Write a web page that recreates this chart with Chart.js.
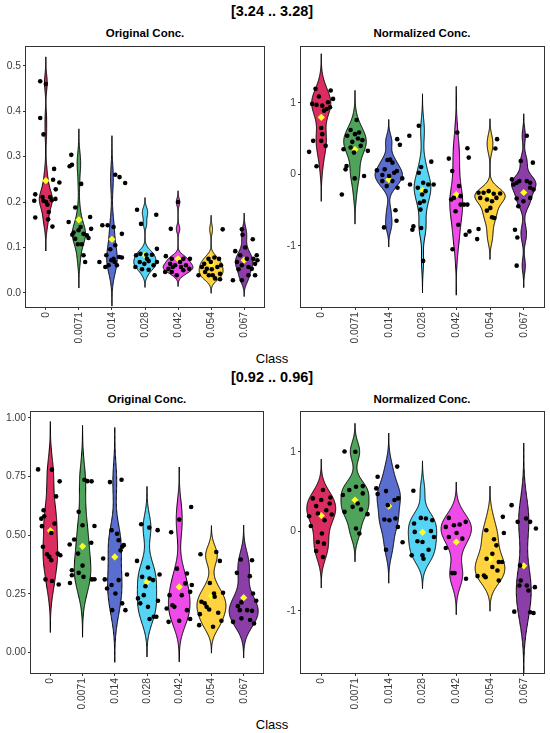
<!DOCTYPE html>
<html>
<head>
<meta charset="utf-8">
<script src="https://cdn.jsdelivr.net/npm/chart.js@4.4.1/dist/chart.umd.min.js"></script>
<style>
body { margin: 0; background: #fff; width: 550px; height: 733px; position: relative; overflow: hidden;
       font-family: "Liberation Sans", Arial, sans-serif; }
canvas { position: absolute; }
.t { position: absolute; transform: translate(-50%, -50%); white-space: nowrap; color: #000; }
.big { font-weight: bold; font-size: 14.5px; }
.sub { font-weight: bold; font-size: 11.5px; }
.cls { font-size: 13px; }
</style>
</head>
<body>
<div class="t big" style="left:272px;top:11px">[3.24 .. 3.28]</div>
<div class="t sub" style="left:145px;top:33px">Original Conc.</div>
<div class="t sub" style="left:422px;top:33px">Normalized Conc.</div>
<div class="t cls" style="left:272px;top:358px">Class</div>
<div class="t big" style="left:272px;top:377px">[0.92 .. 0.96]</div>
<div class="t sub" style="left:147px;top:399px">Original Conc.</div>
<div class="t sub" style="left:422px;top:399px">Normalized Conc.</div>
<div class="t cls" style="left:272px;top:724px">Class</div>

<canvas id="c1" width="275" height="316" style="left:0;top:39px"></canvas>
<canvas id="c2" width="275" height="316" style="left:275px;top:39px"></canvas>
<canvas id="c3" width="275" height="316" style="left:0;top:404px"></canvas>
<canvas id="c4" width="275" height="316" style="left:275px;top:404px"></canvas>

<script>
// categories
const classes = ["0", "0.0071", "0.014", "0.028", "0.042", "0.054", "0.067"];
const fills = ["#DB2D5F", "#4FA35A", "#5A6ECF", "#56D4F5", "#EE4BE8", "#FFD23F", "#8B3DA8"];

// [3.24 .. 3.28] - original conc.
const hiOrigValues = [
  [0.466,0.46,0.385,0.349,0.273,0.249,0.243,0.228,0.217,0.211,0.211,0.203,0.203,0.204,0.207,0.194,0.178,0.166,0.162,0.146,0.2],
  [0.304,0.279,0.282,0.240,0.188,0.167,0.156,0.141,0.133,0.138,0.130,0.121,0.127,0.107,0.107,0.083,0.068,0.119,0.145,0.128],
  [0.260,0.255,0.242,0.149,0.149,0.145,0.130,0.068,0.083,0.061,0.075,0.079,0.078,0.096,0.105,0.057,0.061,0.068,0.072],
  [0.183,0.152,0.172,0.083,0.086,0.084,0.084,0.097,0.057,0.068,0.064,0.07,0.061,0.068,0.052,0.051,0.039,0.075],
  [0.141,0.2,0.081,0.075,0.075,0.075,0.064,0.061,0.068,0.061,0.046,0.053,0.057,0.057,0.053,0.046,0.050,0.039],
  [0.14,0.039,0.064,0.075,0.078,0.075,0.057,0.053,0.052,0.057,0.061,0.039,0.039,0.03,0.032,0.046,0.042,0.068],
  [0.14,0.128,0.118,0.1,0.092,0.083,0.075,0.075,0.083,0.068,0.061,0.064,0.072,0.057,0.052,0.053,0.028,0.028,0.039,0.039]
];
const hiOrigJitter = [
  [-0.17,0,-0.17,-0.07,0.25,0.22,0.41,0.30,-0.32,-0.1,0.13,-0.35,-0.07,0.18,0.29,0.05,0.09,-0.32,0.07,0.2,0.01],
  [-0.23,-0.28,-0.21,0.07,-0.11,0.34,-0.31,0.37,-0.16,-0.01,0.14,0.29,0.24,-0.03,0.09,0.14,0.19,-0.11,0.05,-0.2],
  [0.1,0.23,0.4,-0.29,-0.13,0.05,0.3,-0.38,-0.17,-0.1,0.05,0.22,0.3,-0.05,0.1,-0.2,0.15,0.08,-0.02],
  [-0.24,-0.12,0.34,-0.27,-0.14,0.04,0.21,0.36,-0.29,-0.16,-0.02,0.11,0.26,0.36,-0.09,0.11,0.29,0.06],
  [-0.22,0,-0.37,-0.19,0.16,0.36,-0.24,-0.09,0.06,0.24,-0.39,-0.29,-0.16,0.09,0.34,-0.19,0.16,-0.04],
  [0.35,-0.38,-0.21,-0.08,0.1,0.24,-0.28,-0.13,0.02,0.19,0.3,0.05,-0.07,0.27,0.12,-0.18,0.27,-0.01],
  [-0.07,-0.05,0.26,0.03,-0.27,-0.12,0.08,0.28,0.38,-0.22,-0.07,0.33,0.4,0.13,-0.17,0.23,-0.34,-0.07,0.33,0.13]
];
const hiOrigMeans = [0.247, 0.161, 0.118, 0.083, 0.075, 0.065, 0.072];
const hiOrigTicks = ["0.0", "0.1", "0.2", "0.3", "0.4", "0.5"];

// [3.24 .. 3.28] - normalized conc.
const hiNormValues = [
  [1.197,1.089,0.986,0.972,0.962,1.174,1.056,1.009,0.939,0.915,0.648,0.563,0.469,0.469,0.399,0.113,0.315,0.892],
  [0.761,0.54,0.62,0.563,0.587,0.502,0.352,0.376,0.305,0.399,0.329,0.117,0.07,-0.056,-0.023,-0.282,0.455,0.479],
  [0.493,0.413,0.202,0.207,0.056,0.07,0.023,0.047,-0.056,-0.009,-0.164,-0.094,-0.188,-0.502,-0.648,-0.742,-0.023,0.164,-0.094],
  [0.54,0.681,0.178,-0.141,0.103,0.023,-0.117,-0.141,-0.141,-0.188,-0.282,-0.399,-0.493,-0.751,-0.775,-0.728,-1.211,-0.235,-0.376],
  [0.587,0.221,0.366,0.235,0.047,-0.164,-0.329,-0.423,-0.423,-0.423,-0.352,-0.704,-0.845,-0.798,-1.047,-0.516,-0.305],
  [0.493,0.362,-0.258,-0.258,-0.235,-0.272,-0.268,-0.329,-0.352,-0.376,-0.329,-0.469,-0.507,-0.601,-0.61,-0.765,-0.906],
  [0.54,0.188,0.164,-0.07,-0.117,-0.094,-0.094,-0.117,-0.211,-0.329,-0.338,-0.376,-0.446,-0.775,-0.883,-1.277,-0.188,-0.141]
];
const hiNormJitter = [
  [-0.17,-0.07,-0.27,-0.14,0.03,0.28,0.35,0.2,0.26,0.16,0,0.03,-0.24,0,0.13,-0.14,-0.36,0.08],
  [0.05,-0.23,-0.13,0,0.12,0.09,-0.34,-0.13,-0.03,0.17,0.38,-0.25,-0.28,-0.01,0.27,-0.39,-0.08,0.22],
  [0.25,0.33,-0.04,0.04,-0.35,-0.12,0.16,0.24,0.4,-0.19,-0.06,0.11,0.26,0.2,0.23,-0.14,0.01,0.11,-0.19],
  [-0.39,-0.11,0.26,-0.37,-0.04,-0.11,0.02,0.17,0.33,-0.14,-0.01,-0.08,-0.06,-0.04,-0.3,-0.27,0.02,0.09,0.04],
  [0.03,-0.22,0.33,0.37,-0.12,0.08,-0.07,0.13,0.23,0.33,-0.15,0.06,0.28,0.39,-0.11,-0.02,0.13],
  [0.21,0.16,-0.34,-0.19,-0.04,0.11,0.3,-0.29,-0.09,0.06,0.19,0.01,-0.09,0.06,0.13,-0.34,-0.38],
  [0.09,-0.09,0.27,-0.35,-0.21,-0.13,0.09,0.19,0.29,0.19,-0.21,-0.01,-0.16,-0.26,-0.19,-0.21,0.19,-0.3]
];
const hiNormMeans = [0.798, 0.347, -0.075, -0.225, -0.282, -0.28, -0.254];
const normTicks = ["-1", "0", "1"];

// [0.92 .. 0.96] - original conc.
const loOrigValues = [
  [0.78,0.779,0.729,0.665,0.606,0.57,0.58,0.549,0.538,0.509,0.45,0.418,0.407,0.421,0.414,0.393,0.311,0.304,0.289],
  [0.599,0.736,0.73,0.729,0.542,0.539,0.46,0.481,0.467,0.35,0.37,0.339,0.329,0.322,0.312,0.296,0.311,0.421],
  [0.726,0.736,0.4,0.521,0.506,0.478,0.45,0.457,0.435,0.332,0.311,0.272,0.251,0.287,0.209,0.18,0.18,0.308],
  [0.546,0.532,0.521,0.39,0.362,0.322,0.315,0.282,0.308,0.332,0.23,0.244,0.209,0.22,0.194,0.152,0.142,0.152],
  [0.566,0.62,0.512,0.357,0.336,0.287,0.244,0.201,0.194,0.244,0.294,0.258,0.187,0.13,0.18,0.135,0.142],
  [0.428,0.418,0.39,0.296,0.251,0.254,0.216,0.209,0.194,0.183,0.163,0.169,0.135,0.116,0.109,0.237],
  [0.396,0.393,0.339,0.325,0.251,0.22,0.213,0.197,0.18,0.18,0.13,0.145,0.177,0.138,0.123]
];
const loOrigJitter = [
  [-0.38,0.05,0.29,0.18,-0.21,-0.28,-0.19,0.13,-0.26,0.03,-0.23,-0.1,-0.03,0.23,0.31,0.03,-0.15,0.05,0.26],
  [-0.12,0.06,0.15,0.28,0,0.37,-0.4,-0.26,0.27,-0.33,0,-0.12,-0.33,0.03,0.37,-0.39,0.29,-0.14],
  [-0.15,0.21,-0.36,-0.1,0.07,0.12,0.23,0.28,0.18,0.38,-0.31,-0.24,0.02,-0.1,0.23,0.33,-0.08,0.12],
  [-0.18,0.07,0.33,-0.31,0.03,-0.15,0.08,-0.05,0.19,0.39,-0.28,-0.1,-0.21,0.34,0.03,0.21,0.08,0.29],
  [0,0.37,-0.25,-0.07,0.24,0.39,-0.3,-0.21,-0.15,0.08,0.19,0.34,-0.39,-0.33,0.24,0,0.34],
  [0.15,-0.34,0.26,-0.05,0.08,0.36,-0.31,-0.21,-0.15,-0.07,-0.36,0.21,0.31,-0.38,0.05,0.1],
  [-0.09,0.26,-0.21,0.19,0.29,0.39,-0.07,-0.18,-0.12,0.11,-0.33,-0.07,0.26,0.2,0.32]
];
const loOrigMeans = [0.518, 0.452, 0.407, 0.301, 0.279, 0.24, 0.233];
const loOrigTicks = ["0.00", "0.25", "0.50", "0.75", "1.00"];

// [0.92 .. 0.96] - normalized conc.
const loNormValues = [
  [0.518,0.413,0.392,0.425,0.316,0.349,0.265,0.189,0.223,0.211,0.067,0.139,-0.029,-0.135,-0.156,-0.248,-0.324],
  [1.002,1.0,0.455,0.518,0.56,0.568,0.244,0.307,0.349,0.274,0.215,0.034,-0.029,0.476],
  [0.686,0.813,0.539,0.505,0.467,0.392,0.413,0.147,0.139,0.16,0.055,-0.139,-0.232,0.328],
  [0.509,0.168,0.16,0.097,0.139,-0.008,-0.126,-0.135,0.004,-0.072,-0.303,-0.303,-0.232,-0.345],
  [0.168,0.076,0.084,0.118,0.055,-0.072,-0.093,-0.021,-0.211,-0.526,-0.526,-0.598],
  [0.181,0.013,-0.021,-0.101,-0.177,-0.282,-0.345,-0.387,-0.387,-0.556,-0.577,-0.564,-0.493,-0.619,-0.45],
  [0.328,0.118,0.16,0.118,0.034,-0.429,-0.619,-0.682,-0.682,-0.745,-0.703,-1.011,-1.019,-1.027]
];
const loNormJitter = [
  [0.05,-0.25,0,0.27,-0.15,0.25,0.15,-0.36,-0.1,0.31,-0.31,0.1,0.02,-0.1,0.08,-0.15,0.05],
  [-0.31,0.01,-0.36,-0.17,0.03,0.23,-0.31,-0.07,0.08,0.18,0.37,0.03,0.13,0.23],
  [-0.33,0.25,-0.37,-0.08,-0.33,0.17,0.28,-0.13,0.02,0.2,0.27,0.41,-0.08,-0.03],
  [-0.27,-0.05,0.1,-0.25,0.29,-0.23,-0.15,0,0.25,0.34,-0.32,0,0.18,0.03],
  [-0.22,-0.07,0.1,0.28,-0.31,-0.22,0.18,0.01,-0.31,-0.12,-0.05,0.29],
  [0.38,-0.11,0.41,0.12,0.19,0.07,-0.1,0.26,0.36,-0.18,-0.13,-0.37,0.22,0.26,0.07],
  [-0.36,-0.18,0.07,0.19,0.36,-0.11,-0.09,-0.13,0.09,0.14,0.33,-0.28,0.19,0.29]
];
const loNormMeans = [0.198, 0.392, 0.316, -0.013, -0.135, -0.35, -0.434];

Chart.defaults.font.family = '"Liberation Sans", Arial, sans-serif';

// gaussian kde like R density(), bw.nrd0, cut = 3
function quantile(s, p) {
  const h = (s.length - 1) * p, lo = Math.floor(h);
  return s[lo] + (h - lo) * ((s[lo + 1] ?? s[lo]) - s[lo]);
}
function kde(v) {
  const s = [...v].sort((a, b) => a - b), n = s.length;
  const mean = s.reduce((a, b) => a + b, 0) / n;
  const sd = Math.sqrt(s.reduce((a, b) => a + (b - mean) ** 2, 0) / (n - 1));
  const iqr = (quantile(s, 0.75) - quantile(s, 0.25)) / 1.34;
  const bw = 0.9 * Math.min(sd, iqr || sd) * Math.pow(n, -0.2);
  const lo = s[0] - 3 * bw, hi = s[n - 1] + 3 * bw;
  const ys = [], ds = [];
  for (let k = 0; k <= 200; k++) {
    const y = lo + (hi - lo) * k / 200;
    let d = 0;
    for (const x of s) d += Math.exp(-0.5 * ((y - x) / bw) ** 2);
    ys.push(y);
    ds.push(d / (n * bw * Math.sqrt(2 * Math.PI)));
  }
  return { ys, ds };
}

const violinPlugin = {
  id: 'violins',
  beforeDatasetsDraw(chart, args, opts) {
    const { ctx, chartArea, scales: { x, y } } = chart;
    const groups = opts.values.map(kde);
    const maxD = Math.max(...groups.map(g => Math.max(...g.ds)));
    ctx.save();
    ctx.beginPath();
    ctx.rect(chartArea.left, chartArea.top, chartArea.width, chartArea.height);
    ctx.clip();
    groups.forEach((g, i) => {
      ctx.beginPath();
      g.ys.forEach((yy, k) => {
        const px = x.getPixelForValue(i + 1 - g.ds[k] / maxD * 0.45), py = y.getPixelForValue(yy);
        k ? ctx.lineTo(px, py) : ctx.moveTo(px, py);
      });
      for (let k = g.ys.length - 1; k >= 0; k--) {
        ctx.lineTo(x.getPixelForValue(i + 1 + g.ds[k] / maxD * 0.45), y.getPixelForValue(g.ys[k]));
      }
      ctx.closePath();
      ctx.fillStyle = fills[i];
      ctx.fill();
      ctx.lineWidth = 1;
      ctx.strokeStyle = '#000';
      ctx.stroke();
    });
    ctx.restore();
  },
  afterDraw(chart) {
    const { ctx, chartArea: a } = chart;
    ctx.save();
    ctx.strokeStyle = '#333';
    ctx.lineWidth = 1;
    ctx.strokeRect(Math.round(a.left) - 0.5, Math.round(a.top) - 0.5,
                   Math.round(a.width) + 1, Math.round(a.height) + 1);
    ctx.restore();
  }
};

function makePanel(id, values, jitter, means, tickLabels, yMin, yMax, yWidth, xHeight, padRight) {
  const pts = [];
  values.forEach((g, i) => g.forEach((v, k) => pts.push({ x: i + 1 + jitter[i][k], y: v })));
  const tickFont = { size: 10.3 };
  new Chart(document.getElementById(id), {
    type: 'scatter',
    data: {
      datasets: [
        { data: pts, pointRadius: 2.3, pointBackgroundColor: '#000', pointBorderWidth: 0 },
        { data: means.map((m, i) => ({ x: i + 1, y: m })), pointStyle: 'rectRot', pointRadius: 3.6,
          pointBackgroundColor: '#FFFF22', pointBorderWidth: 0 }
      ]
    },
    options: {
      responsive: false,
      animation: false,
      events: [],
      layout: { padding: { top: 8, right: padRight, left: 0, bottom: 0 } },
      plugins: { legend: { display: false }, tooltip: { enabled: false }, violins: { values } },
      scales: {
        x: {
          type: 'linear', min: 0.4, max: 7.6,
          afterBuildTicks: s => { s.ticks = classes.map((c, i) => ({ value: i + 1 })); },
          afterFit: s => { s.height = xHeight; },
          ticks: { callback: (v, i) => classes[i], minRotation: 90, maxRotation: 90, autoSkip: false,
                   padding: 2, color: '#3a3a3a', font: tickFont },
          grid: { drawOnChartArea: false, tickLength: 3, color: '#333' },
          border: { display: false }
        },
        y: {
          min: yMin, max: yMax,
          afterBuildTicks: s => { s.ticks = tickLabels.map(t => ({ value: Number(t) })); },
          afterFit: s => { s.width = yWidth; },
          ticks: { callback: (v, i) => tickLabels[i], padding: 2, color: '#3a3a3a', font: tickFont },
          grid: { drawOnChartArea: false, tickLength: 3, color: '#333' },
          border: { display: false }
        }
      }
    },
    plugins: [violinPlugin]
  });
}

makePanel('c1', hiOrigValues, hiOrigJitter, hiOrigMeans, hiOrigTicks, -0.031, 0.541, 26, 48, 11);
makePanel('c2', hiNormValues, hiNormJitter, hiNormMeans, normTicks, -1.856, 1.78, 26, 48, 6);
makePanel('c3', loOrigValues, loOrigJitter, loOrigMeans, loOrigTicks, -0.088, 1.024, 31, 47, 12);
makePanel('c4', loNormValues, loNormJitter, loNormMeans, normTicks, -1.782, 1.497, 26, 47, 6);
</script>
</body>
</html>
